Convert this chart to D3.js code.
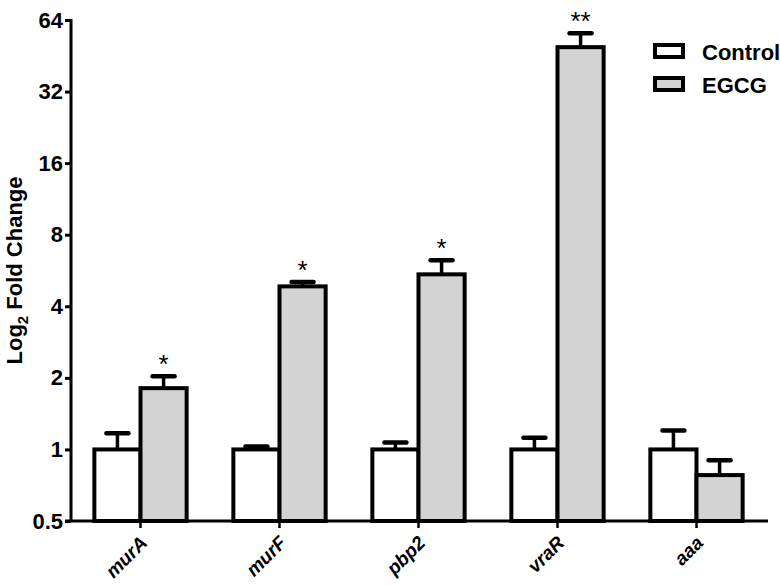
<!DOCTYPE html>
<html>
<head>
<meta charset="utf-8">
<script src="https://cdn.jsdelivr.net/npm/d3@7"></script>
<style>
  body { margin: 0; background: #fff; }
  text { font-family: "Liberation Sans", Arial, sans-serif; font-weight: bold; }
</style>
</head>
<body>
<script>
// gene names along the x axis
var genes = ["murA", "murF", "pbp2", "vraR", "aaa"];
var seriesNames = ["Control", "EGCG"];

// fold change values
var controlVals = [1, 1, 1, 1, 1];
var controlErr = [1.17, 1.03, 1.07, 1.12, 1.2];
var egcgVals = [1.81, 4.85, 5.45, 49.2, 0.78];
var egcgErr = [2.03, 5.06, 6.25, 56.3, 0.9];
var stars = ["*", "*", "*", "**", ""];

var yTicks = [0.5, 1, 2, 4, 8, 16, 32, 64];

var width = 780, height = 585;
var margin = {top: 20, right: 14, bottom: 64, left: 71};

var svg = d3.select("body").append("svg")
    .attr("width", width)
    .attr("height", height);

var x = d3.scaleBand()
    .domain(genes)
    .range([margin.left, width - margin.right])
    .paddingInner(0.336)
    .paddingOuter(0.168);

var xSub = d3.scaleBand()
    .domain(seriesNames)
    .range([0, x.bandwidth()]);

var y = d3.scaleLog()
    .base(2)
    .domain([0.5, 64])
    .range([height - margin.bottom, margin.top]);

var fills = {Control: "#ffffff", EGCG: "#d3d3d3"};

var rows = genes.map(function(g, i) {
  return [
    {gene: g, series: "Control", v: controlVals[i], e: controlErr[i]},
    {gene: g, series: "EGCG", v: egcgVals[i], e: egcgErr[i]}
  ];
});

var groups = svg.selectAll("g.grp")
    .data(rows)
  .enter().append("g")
    .attr("class", "grp")
    .attr("transform", function(d) { return "translate(" + x(d[0].gene) + ",0)"; });

// error bars (drawn first so the bar outline covers the stem)
groups.selectAll("g.err")
    .data(function(d) { return d; })
  .enter().append("g")
    .attr("class", "err")
    .each(function(d) {
      var cx = xSub(d.series) + xSub.bandwidth() / 2;
      var g = d3.select(this);
      g.append("line")
        .attr("x1", cx).attr("x2", cx)
        .attr("y1", y(d.v)).attr("y2", y(d.e))
        .attr("stroke", "#000").attr("stroke-width", 3.5);
      g.append("line")
        .attr("x1", cx - 11).attr("x2", cx + 11)
        .attr("y1", y(d.e)).attr("y2", y(d.e))
        .attr("stroke", "#000").attr("stroke-width", 4.5)
        .attr("stroke-linecap", "round");
    });

groups.selectAll("rect")
    .data(function(d) { return d; })
  .enter().append("rect")
    .attr("x", function(d) { return xSub(d.series); })
    .attr("width", xSub.bandwidth())
    .attr("y", function(d) { return y(d.v); })
    .attr("height", function(d) { return y(0.5) - y(d.v); })
    .attr("fill", function(d) { return fills[d.series]; })
    .attr("stroke", "#000")
    .attr("stroke-width", 4);

// significance stars above EGCG error bars
groups.append("text")
    .attr("x", xSub("EGCG") + xSub.bandwidth() / 2)
    .attr("y", function(d, i) { return y(egcgErr[i]) - 3; })
    .attr("text-anchor", "middle")
    .attr("font-size", 26)
    .style("font-weight", "normal")
    .text(function(d, i) { return stars[i]; });

// y axis
var yAxis = d3.axisLeft(y)
    .tickValues(yTicks)
    .tickFormat(d3.format("~g"))
    .tickSize(6)
    .tickPadding(2);

var gy = svg.append("g")
    .attr("transform", "translate(" + margin.left + ",0)")
    .call(yAxis);
gy.select(".domain").attr("stroke-width", 3).attr("d", "M0," + y(0.5) + "V" + (y(64) - 1));
gy.selectAll(".tick line").attr("stroke-width", 3);
gy.selectAll(".tick text")
    .attr("font-size", 22)
    .attr("fill", "#000");

// x axis
var xAxis = d3.axisBottom(x).tickSize(7).tickSizeOuter(0);
var gx = svg.append("g")
    .attr("transform", "translate(0," + y(0.5) + ")")
    .call(xAxis);
gx.select(".domain").attr("stroke-width", 3)
    .attr("d", "M" + (margin.left - 6) + ",0H" + (width - margin.right + 2));
gx.selectAll(".tick line").attr("stroke-width", 2.5);
gx.selectAll(".tick text")
    .attr("font-size", 19)
    .attr("font-style", "italic")
    .attr("fill", "#000")
    .attr("text-anchor", "end")
    .attr("x", 0)
    .attr("y", 0)
    .attr("dy", 0)
    .attr("transform", "translate(8,23) rotate(-45)");

// y axis title
svg.append("text")
    .attr("transform", "translate(22," + ((y(0.5) + y(64)) / 2) + ") rotate(-90)")
    .attr("text-anchor", "middle")
    .attr("font-size", 22)
    .html('Log<tspan font-size="15" dy="6">2</tspan><tspan dy="-6"> Fold Change</tspan>');

// legend
var legend = svg.selectAll("g.leg")
    .data(seriesNames)
  .enter().append("g")
    .attr("class", "leg")
    .attr("transform", function(d, i) { return "translate(655," + (45 + i * 33) + ")"; });

legend.append("rect")
    .attr("width", 28)
    .attr("height", 12)
    .attr("fill", function(d) { return fills[d]; })
    .attr("stroke", "#000")
    .attr("stroke-width", 4);

legend.append("text")
    .attr("x", 47)
    .attr("y", 15)
    .attr("font-size", 22)
    .text(function(d) { return d; });
</script>
</body>
</html>
